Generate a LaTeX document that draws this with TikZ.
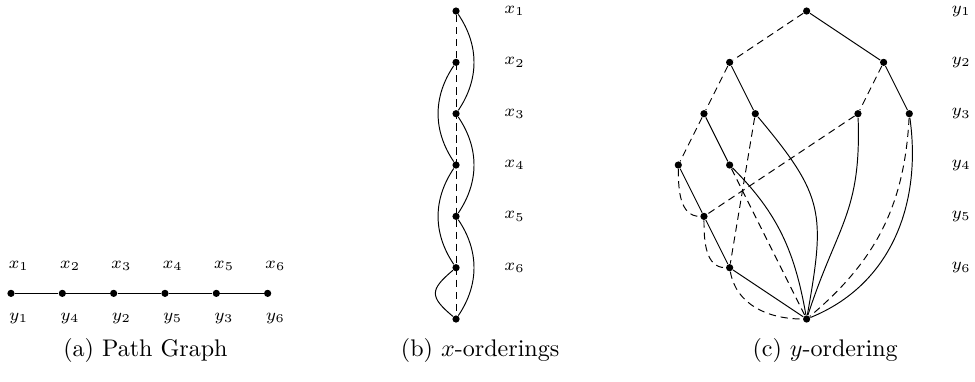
\documentclass[tikz,border=0pt]{standalone}
\usepackage{amsmath}
\usepackage{tikz}
\usetikzlibrary{positioning, calc}

\begin{document}
\begin{tikzpicture}[
        x=0.75cm, y=0.75cm,
        dot/.style={circle, fill=black, inner sep=0pt, minimum size=3pt},
        lbl/.style={font=\scriptsize, inner sep=1pt},
        subcap/.style={font=\normalsize},
        dashedge/.style={dash pattern=on 3pt off 2pt}
    ]
    \useasboundingbox (-0.214,-1.208) rectangle (18.78,6.215);

    % (a) Path graph
    \node[dot] (a1) at (0,0.5) {};
    \node[dot] (a2) at (1,0.5) {};
    \node[dot] (a3) at (2,0.5) {};
    \node[dot] (a4) at (3,0.5) {};
    \node[dot] (a5) at (4,0.5) {};
    \node[dot] (a6) at (5,0.5) {};
    \draw (a1) -- (a2) -- (a3) -- (a4) -- (a5) -- (a6);

    \node[lbl] (ax1) at ($(a1)+(0.15,0.53)$) {$x_1$};
    \node[lbl] (ax2) at ($(a2)+(0.15,0.53)$) {$x_2$};
    \node[lbl] (ax3) at ($(a3)+(0.15,0.53)$) {$x_3$};
    \node[lbl] (ax4) at ($(a4)+(0.15,0.53)$) {$x_4$};
    \node[lbl] (ax5) at ($(a5)+(0.15,0.53)$) {$x_5$};
    \node[lbl] (ax6) at ($(a6)+(0.15,0.53)$) {$x_6$};
    \node[lbl] (ay1) at ($(a1)+(0.15,-0.49)$) {$y_1$};
    \node[lbl] (ay4) at ($(a2)+(0.15,-0.49)$) {$y_4$};
    \node[lbl] (ay2) at ($(a3)+(0.15,-0.49)$) {$y_2$};
    \node[lbl] (ay5) at ($(a4)+(0.15,-0.49)$) {$y_5$};
    \node[lbl] (ay3) at ($(a5)+(0.15,-0.49)$) {$y_3$};
    \node[lbl] (ay6) at ($(a6)+(0.15,-0.49)$) {$y_6$};

    \node[subcap] (capa) at (2.62,-0.62) {(a) Path Graph};

    % (b) x-orderings
    \node[dot] (b0) at (8.67,6) {};
    \node[dot] (b1) at (8.67,5) {};
    \node[dot] (b2) at (8.67,4) {};
    \node[dot] (b3) at (8.67,3) {};
    \node[dot] (b4) at (8.67,2) {};
    \node[dot] (b5) at (8.67,1) {};
    \node[dot] (b6) at (8.67,0) {};
    \draw[dashedge] (b0) -- (b6);

    \draw (b0) to[bend left=34] (b2);
    \draw (b1) to[bend right=34] (b3);
    \draw (b2) to[bend left=34] (b4);
    \draw (b3) to[bend right=34] (b5);
    \draw (b4) to[bend left=34] (b6);
    \draw (b5) to[out=-140, in=140, looseness=1.7] (b6);

    \node[lbl] (bx1) at ($(b0)+(1.14,0)$) {$x_1$};
    \node[lbl] (bx2) at ($(b1)+(1.14,0)$) {$x_2$};
    \node[lbl] (bx3) at ($(b2)+(1.14,0)$) {$x_3$};
    \node[lbl] (bx4) at ($(b3)+(1.14,0)$) {$x_4$};
    \node[lbl] (bx5) at ($(b4)+(1.14,0)$) {$x_5$};
    \node[lbl] (bx6) at ($(b5)+(1.14,0)$) {$x_6$};

    \node[subcap] (capb) at (9.14,-0.62) {(b) $x$-orderings};

    % (c) y-ordering
    \node[dot] (c1) at (15.5,6) {};
    \node[dot] (c21) at (14,5) {};
    \node[dot] (c22) at (17,5) {};
    \node[dot] (c31) at (13.5,4) {};
    \node[dot] (c32) at (14.5,4) {};
    \node[dot] (c33) at (16.5,4) {};
    \node[dot] (c34) at (17.5,4) {};
    \node[dot] (c41) at (13,3) {};
    \node[dot] (c42) at (14,3) {};
    \node[dot] (c5) at (13.5,2) {};
    \node[dot] (c6) at (14,1) {};
    \node[dot] (c7) at (15.5,0) {};

    % dashed branches
    \draw[dashedge] (c1) -- (c21);
    \draw[dashedge] (c21) -- (c31);
    \draw[dashedge] (c22) -- (c33);
    \draw[dashedge] (c31) -- (c41);
    \draw[dashedge] (c32) -- (c6);
    \draw[dashedge] (c33) -- (c5);
    \draw[dashedge] (c42) -- (c7);
    \draw[dashedge] (c34) to[out=-93, in=40] (c7);
    \draw[dashedge] (c41) to[out=-90, in=180] (c5);
    \draw[dashedge] (c5) to[out=-90, in=180] (c6);
    \draw[dashedge] (c6) to[out=-80, in=180] (c7);

    % solid branches
    \draw (c1) -- (c22);
    \draw (c21) -- (c32);
    \draw (c22) -- (c34);
    \draw (c31) -- (c42);
    \draw (c41) -- (c5);
    \draw (c5) -- (c6);
    \draw (c6) -- (c7);
    \draw (c32) to[out=-50, in=80, looseness=1.3] (c7);
    \draw (c33) to[out=-88, in=72, looseness=1.2] (c7);
    \draw (c34) to[out=-82, in=22] (c7);
    \draw (c42) to[out=-45, in=100] (c7);

    \node[lbl] (cy1) at (18.51,6) {$y_1$};
    \node[lbl] (cy2) at (18.51,5) {$y_2$};
    \node[lbl] (cy3) at (18.51,4) {$y_3$};
    \node[lbl] (cy4) at (18.51,3) {$y_4$};
    \node[lbl] (cy5) at (18.51,2) {$y_5$};
    \node[lbl] (cy6) at (18.51,1) {$y_6$};

    \node[subcap] (capc) at (15.86,-0.62) {(c) $y$-ordering};

    \end{tikzpicture}
\end{document}
